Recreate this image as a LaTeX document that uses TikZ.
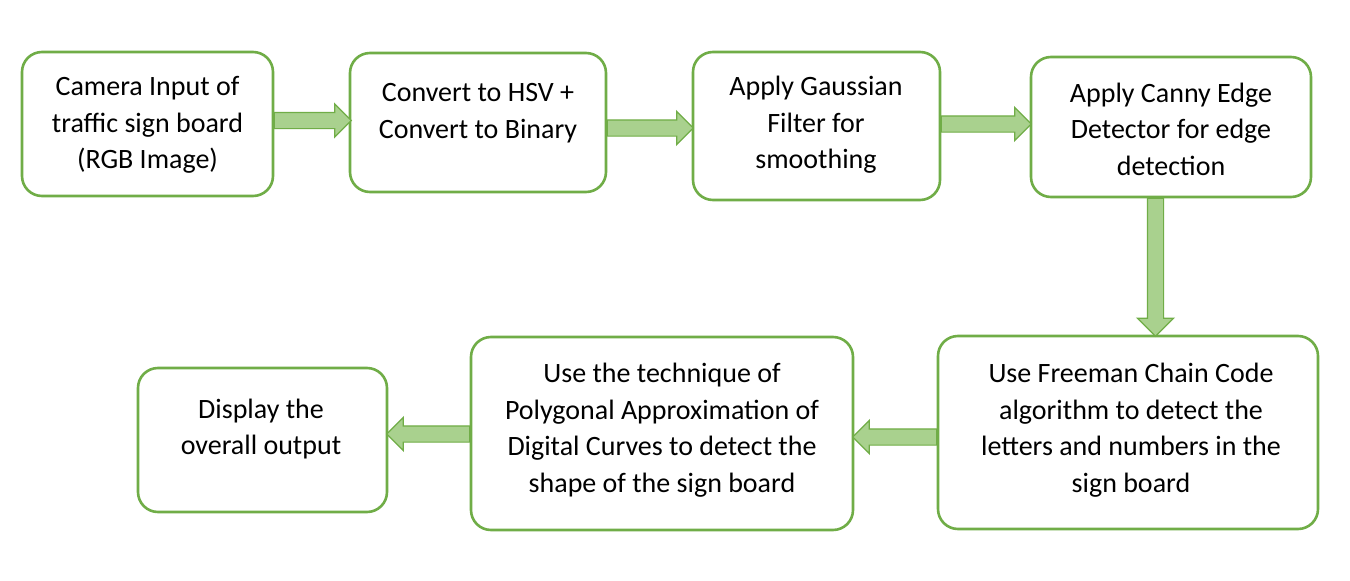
\documentclass[tikz,border=0pt]{standalone}
\usepackage{fontspec}
\setmainfont{Carlito}
\usetikzlibrary{shapes.arrows}
\definecolor{gborder}{HTML}{70AD47}
\definecolor{gfill}{HTML}{A9D18E}
\begin{document}
\begin{tikzpicture}[x=1pt,y=-1pt,
  box/.style={draw=gborder, line width=2.6pt, rounded corners=20pt, fill=white, inner sep=0pt, rectangle},
  txt/.style={align=center, font=\fontsize{28}{36.5}\selectfont, inner sep=0pt},
  barrow/.style={single arrow, draw=gborder, fill=gfill, line width=1.2pt,
    inner xsep=0pt, inner ysep=7.5pt, text height=0pt, text depth=0pt, text width=0pt,
    single arrow head extend=8.5pt, outer sep=0pt, anchor=tail}]
\useasboundingbox (0,0) rectangle (1350,581);
\fill[white] (0,0) rectangle (1350,581);
% boxes
\node[box, minimum width=251pt, minimum height=144pt] (b1) at (147.5,124) {};
\node[box, minimum width=256pt, minimum height=139pt] (b2) at (478,122.5) {};
\node[box, minimum width=247pt, minimum height=148pt] (b3) at (816.5,126) {};
\node[box, minimum width=280pt, minimum height=140pt] (b4) at (1171,127) {};
\node[box, minimum width=380pt, minimum height=193pt] (b5) at (1128,432.5) {};
\node[box, minimum width=382pt, minimum height=193pt] (b6) at (662,433.5) {};
\node[box, minimum width=249pt, minimum height=144pt] (b7) at (262.5,440) {};
% texts
\node[txt] (t1) at (147.5,125) {Camera Input of\\traffic sign board\\(RGB Image)};
\node[txt] (t2) at (478,113) {Convert to HSV +\\Convert to Binary};
\node[txt] (t3) at (816,125) {Apply Gaussian\\Filter for\\smoothing};
\node[txt] (t4) at (1171,129) {Apply Canny Edge\\Detector for edge\\detection};
\node[txt] (t5) at (1131,430) {Use Freeman Chain Code\\algorithm to detect the\\letters and numbers in the\\sign board};
\node[txt] (t6) at (662,430) {Use the technique of\\Polygonal Approximation of\\Digital Curves to detect the\\shape of the sign board};
\node[txt] (t7) at (261,429) {Display the\\overall output};
% arrows
\node[barrow, minimum height=77pt] (a1) at (b1.east |- {(0,120.5)}) {};
\node[barrow, minimum height=86pt] (a2) at (b2.east |- {(0,128)}) {};
\node[barrow, minimum height=90pt] (a3) at (b3.east |- {(0,124)}) {};
\node[barrow, minimum height=138pt, rotate=-90, single arrow head extend=10pt] (a4) at (b4.south -| {(1155.5,0)}) {};
\node[barrow, minimum height=84pt, rotate=180] (a5) at (b5.west |- {(0,437)}) {};
\node[barrow, minimum height=83pt, rotate=180] (a6) at (b6.west |- {(0,434)}) {};
\end{tikzpicture}
\end{document}
